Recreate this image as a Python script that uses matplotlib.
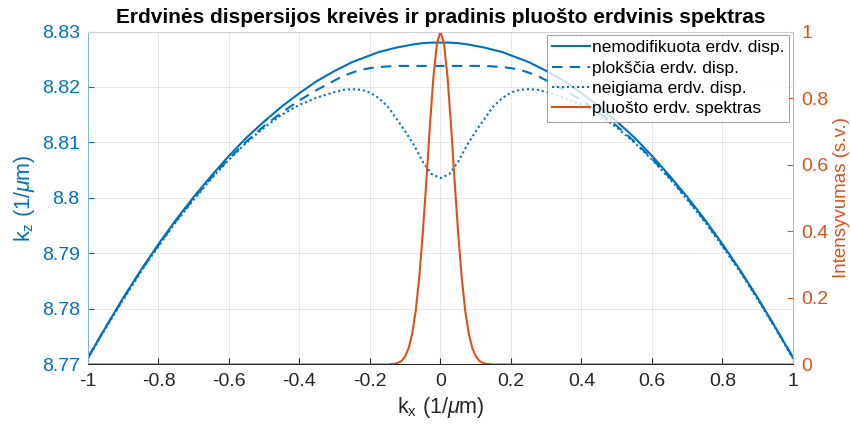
import matplotlib

matplotlib.use("Agg")
import matplotlib.pyplot as plt
import numpy as np

plt.rcParams["font.family"] = ["Liberation Sans", "DejaVu Sans"]
plt.rcParams["mathtext.fontset"] = "custom"
plt.rcParams["mathtext.rm"] = "Liberation Sans"
plt.rcParams["mathtext.it"] = "Liberation Sans:italic"

BLUE = "#0072BD"
ORANGE = "#D95319"

# dispersion curves, k_x >= 0 half (curves are symmetric in k_x)
kx_half = [0.0, 0.025, 0.05, 0.075, 0.1, 0.125, 0.15, 0.175, 0.2, 0.225,
           0.25, 0.275, 0.3, 0.35, 0.4, 0.45, 0.5, 0.55, 0.6, 0.65,
           0.7, 0.75, 0.8, 0.85, 0.9, 0.95, 1.0]
kz_unmod = [8.8280, 8.8280, 8.8279, 8.8277, 8.8274, 8.8271, 8.8267, 8.8263,
            8.8257, 8.8251, 8.8245, 8.8237, 8.8229, 8.8211, 8.8189, 8.8165,
            8.8138, 8.8109, 8.8076, 8.8040, 8.8002, 8.7961, 8.7917, 8.7870,
            8.7820, 8.7767, 8.7712]
kz_flat = [8.8238, 8.8238, 8.8238, 8.8238, 8.8238, 8.8238, 8.8237, 8.8236,
           8.8234, 8.8231, 8.8226, 8.8220, 8.8212, 8.8195, 8.8176, 8.8154,
           8.8130, 8.8102, 8.8071, 8.8037, 8.7999, 8.7959, 8.7915, 8.7869,
           8.7819, 8.7767, 8.7713]
kz_neg = [8.8036, 8.8043, 8.8065, 8.8095, 8.8120, 8.8143, 8.8165, 8.8180,
          8.8190, 8.8195, 8.8196, 8.8195, 8.8191, 8.8181, 8.8168, 8.8150,
          8.8127, 8.8100, 8.8069, 8.8035, 8.7997, 8.7957, 8.7913, 8.7867,
          8.7817, 8.7765, 8.7711]

# initial beam angular spectrum, k_x >= 0 half
kx_spec_half = [0.0, 0.01, 0.02, 0.03, 0.04, 0.05, 0.06, 0.07, 0.08, 0.09,
                0.10, 0.11, 0.12, 0.13, 0.14, 0.15, 1.0]
spec_half = [1.000, 0.964, 0.863, 0.717, 0.553, 0.397, 0.264, 0.163, 0.094,
             0.050, 0.025, 0.011, 0.005, 0.002, 0.001, 0.0, 0.0]


def mirror(x, y):
    x = np.asarray(x)
    y = np.asarray(y)
    return np.concatenate([-x[:0:-1], x]), np.concatenate([y[:0:-1], y])


fig = plt.figure(figsize=(8.51, 4.28), dpi=100)
ax = fig.add_axes([0.1034, 0.1484, 0.8284, 0.7780])
ax2 = ax.twinx()

h1, = ax.plot(*mirror(kx_half, kz_unmod), color=BLUE, lw=1.5,
              label="nemodifikuota erdv. disp.")
h2, = ax.plot(*mirror(kx_half, kz_flat), color=BLUE, lw=1.5,
              dashes=(5, 3.5), label="plokščia erdv. disp.")
h3, = ax.plot(*mirror(kx_half, kz_neg), color=BLUE, lw=1.5,
              dashes=(1, 1.4), label="neigiama erdv. disp.")
h4, = ax2.plot(*mirror(kx_spec_half, spec_half), color=ORANGE, lw=1.5,
               label="pluošto erdv. spektras")

ax.set_xlim(-1, 1)
ax.set_ylim(8.77, 8.83)
ax2.set_ylim(0, 1)
ax.set_xticks(np.arange(-1, 1.01, 0.2))
ax.set_xticklabels(["-1", "-0.8", "-0.6", "-0.4", "-0.2", "0",
                    "0.2", "0.4", "0.6", "0.8", "1"])
ax.set_yticks([8.77, 8.78, 8.79, 8.80, 8.81, 8.82, 8.83])
ax.set_yticklabels(["8.77", "8.78", "8.79", "8.8", "8.81", "8.82", "8.83"])
ax2.set_yticks([0, 0.2, 0.4, 0.6, 0.8, 1])
ax2.set_yticklabels(["0", "0.2", "0.4", "0.6", "0.8", "1"])

ax.grid(True, color="#262626", alpha=0.12, lw=0.6)
ax.set_axisbelow(True)

ax.tick_params(axis="x", direction="in", colors="#262626", labelsize=14,
               length=4, pad=6)
ax.tick_params(axis="y", direction="in", colors=BLUE, labelsize=14,
               length=4, pad=6)
ax2.tick_params(axis="y", direction="in", colors=ORANGE, labelsize=14,
                length=4, pad=6)
for a in (ax, ax2):
    a.spines["left"].set_color("#7FB5E0")
    a.spines["right"].set_color("#EFA98A")
    a.spines["bottom"].set_color("#262626")
    a.spines["top"].set_color("#d0d0d0")
    for s in a.spines.values():
        s.set_linewidth(0.7)

ax.set_xlabel(r"k$_\mathregular{x}$ (1/$\mathit{\mu}$m)", fontsize=15.5,
              color="#262626", labelpad=4)
ax.set_ylabel(r"k$_\mathregular{z}$ (1/$\mathit{\mu}$m)", fontsize=15.5,
              color=BLUE, labelpad=3)
ax2.set_ylabel("Intensyvumas (s.v.)", fontsize=13.5, color=ORANGE, labelpad=3)
ax.set_title("Erdvinės dispersijos kreivės ir pradinis pluošto erdvinis spektras",
             fontsize=15, fontweight="bold", pad=6)

leg = ax2.legend(handles=[h1, h2, h3, h4], loc="upper right", fontsize=12.5,
                 frameon=True, fancybox=False, edgecolor="#888888",
                 borderaxespad=0.2, handlelength=2.2, handletextpad=0.1,
                 labelspacing=0.3, borderpad=0.3)
leg.get_frame().set_linewidth(0.7)

fig.savefig("out.png", dpi=100)
